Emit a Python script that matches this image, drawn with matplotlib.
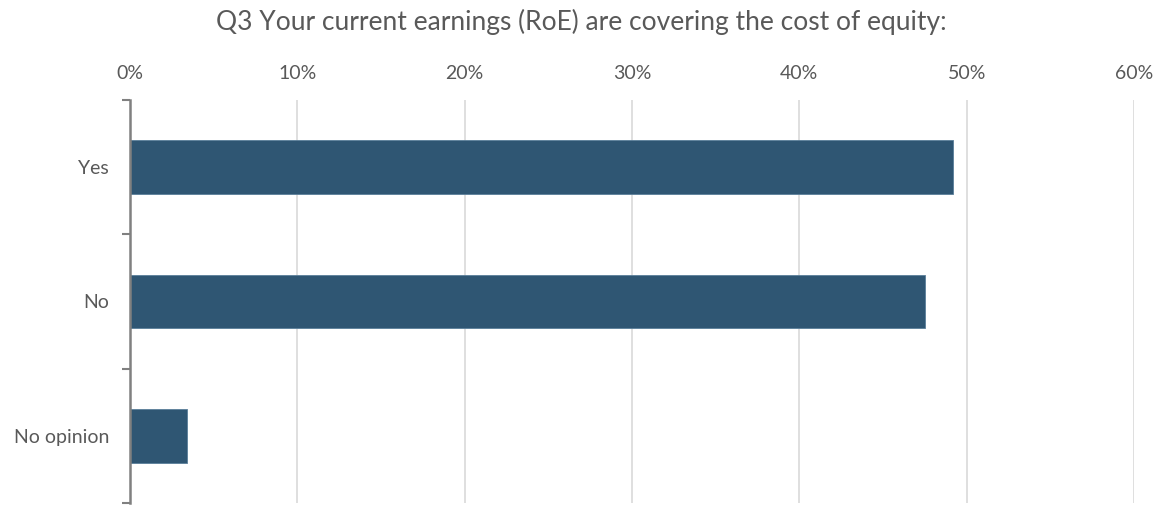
import matplotlib
matplotlib.use("Agg")
import matplotlib.pyplot as plt
from matplotlib.ticker import FixedLocator

categories = ["Yes", "No", "No opinion"]
values = [49.2, 47.5, 3.4]
xticks = [0, 10, 20, 30, 40, 50, 60]
xticklabels = ["0%", "10%", "20%", "30%", "40%", "50%", "60%"]
title = "Q3 Your current earnings (RoE) are covering the cost of equity:"

plt.rcParams['font.family'] = ['Lato', 'DejaVu Sans']

fig = plt.figure(figsize=(11.63, 5.05), dpi=100)
ax = fig.add_axes([130/1163, 1-503/505, (1134-130)/1163, (503-100)/505])

y = list(range(len(categories)))
ax.barh(y, values, height=0.4, color="#2F5673", edgecolor="#5A7E99", linewidth=0.6, zorder=3)

ax.set_xlim(0, 60)
ax.set_ylim(len(categories) - 0.5, -0.5)
ax.xaxis.tick_top()
ax.set_xticks(xticks)
ax.set_xticklabels(xticklabels, fontsize=14, color="#595959")
ax.tick_params(axis="x", length=0, pad=13)
ax.grid(axis="x", color="#D9D9D9", linewidth=1.2, zorder=0)

ax.set_yticks(y)
ax.set_yticklabels(categories, fontsize=14, color="#595959")
ax.tick_params(axis="y", which="major", length=0, pad=15)
ax.yaxis.set_minor_locator(FixedLocator([-0.5 + i for i in range(len(categories) + 1)]))
ax.tick_params(axis="y", which="minor", length=6, width=1.5, color="#808080")

for s in ["top", "right", "bottom"]:
    ax.spines[s].set_visible(False)
ax.spines["left"].set_color("#808080")
ax.spines["left"].set_linewidth(1.8)
ax.spines["left"].set_zorder(4)

fig.text(0.5, 1 - 22/505, title, ha="center", va="center", fontsize=19, color="#595959")

fig.savefig("out.png", dpi=100, facecolor="white")
